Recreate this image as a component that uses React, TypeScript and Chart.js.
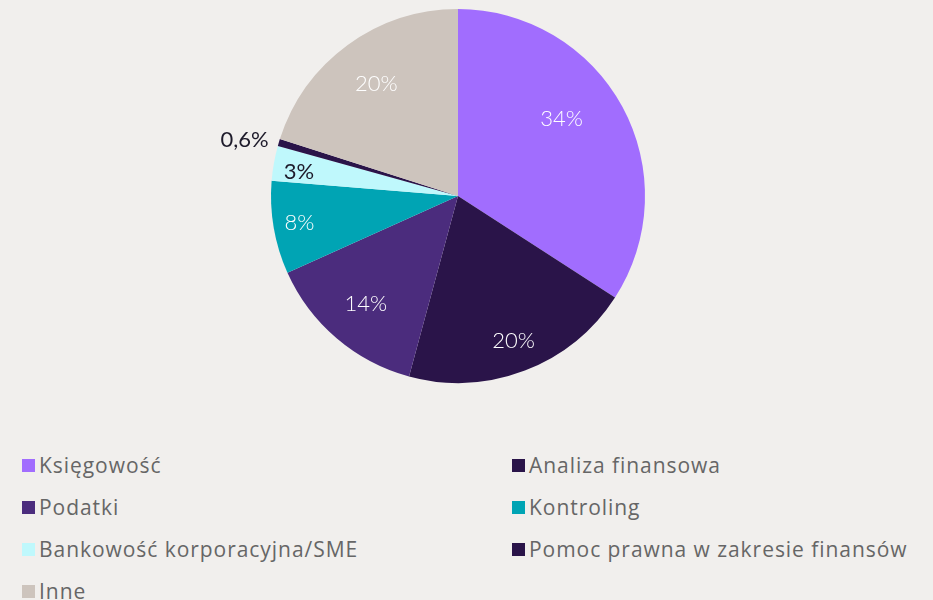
import React, { useEffect, useRef } from "react";
import { Chart, registerables } from "chart.js";

Chart.register(...registerables);

const categories = [
  "Księgowość",
  "Analiza finansowa",
  "Podatki",
  "Kontroling",
  "Bankowość korporacyjna/SME",
  "Pomoc prawna w zakresie finansów",
  "Inne",
];
const values = [34, 20, 14, 8, 3, 0.6, 20];
const valueLabels = ["34%", "20%", "14%", "8%", "3%", "0,6%", "20%"];
const colors = ["#a16dfe", "#2a1449", "#4b2c7d", "#00a4b4", "#bff8fc", "#2a1449", "#cdc4bd"];
const labelColors = ["#ffffff", "#ffffff", "#ffffff", "#ffffff", "#1d1a2a", "#1d1a2a", "#ffffff"];
const labelRadius = [0.69, 0.83, 0.76, 0.86, 0.86, 1.18, 0.74];
const labelAngleShift = [-8, 0, 0, 0, -1.5, -2, 0];
const legendOrder = [0, 1, 2, 3, 4, 5, 6];

const BG = "#f1efed";
const LABEL_FONT = "Lato, 'Open Sans', sans-serif";
const LEGEND_FONT = "'Open Sans', Lato, sans-serif";

const labelPlugin = {
  id: "sliceLabels",
  afterDatasetsDraw(chart: any) {
    const ctx = chart.ctx;
    const meta = chart.getDatasetMeta(0);
    ctx.save();
    ctx.textAlign = "center";
    ctx.textBaseline = "middle";
    meta.data.forEach((arc: any, i: number) => {
      const p = arc.getProps(["x", "y", "startAngle", "endAngle", "outerRadius"], true);
      const mid = (p.startAngle + p.endAngle) / 2 + (labelAngleShift[i] * Math.PI) / 180;
      const r = p.outerRadius * labelRadius[i];
      ctx.font = `${labelColors[i] === "#ffffff" ? 300 : 400} 22px ${LABEL_FONT}`;
      ctx.fillStyle = labelColors[i];
      ctx.fillText(valueLabels[i], p.x + Math.cos(mid) * r, p.y + Math.sin(mid) * r);
    });
    ctx.restore();
  },
};

export default function App() {
  const ref = useRef<HTMLCanvasElement | null>(null);
  useEffect(() => {
    document.body.style.margin = "0";
    document.body.style.background = BG;
    const chart = new Chart(ref.current!, {
      type: "pie",
      data: {
        labels: categories,
        datasets: [
          {
            data: values,
            backgroundColor: colors,
            borderWidth: 0,
          },
        ],
      },
      options: {
        animation: false,
        responsive: true,
        maintainAspectRatio: false,
        layout: { padding: { top: 9, bottom: 9, left: 0, right: 17 } },
        plugins: {
          legend: { display: false },
          tooltip: { enabled: false },
        },
      },
      plugins: [labelPlugin],
    });
    return () => chart.destroy();
  }, []);

  return (
    <div style={{ width: 933, height: 600, background: BG, position: "relative", overflow: "hidden" }}>
      <div style={{ position: "relative", width: 933, height: 392 }}>
        <canvas ref={ref} />
      </div>
      <div
        style={{
          position: "absolute",
          top: 444,
          left: 22,
          display: "grid",
          gridTemplateColumns: "490px 420px",
          rowGap: 0,
          fontFamily: LEGEND_FONT,
          fontWeight: 400,
          fontSize: 21,
          letterSpacing: "0.95px",
          color: "#666666",
        }}
      >
        {legendOrder.map((i) => (
          <div key={i} style={{ display: "flex", alignItems: "center", height: 42 }}>
            <span style={{ width: 13, height: 13, background: colors[i], marginRight: 4, flex: "none" }} />
            <span style={{ lineHeight: "42px", whiteSpace: "nowrap" }}>{categories[i]}</span>
          </div>
        ))}
      </div>
    </div>
  );
}
